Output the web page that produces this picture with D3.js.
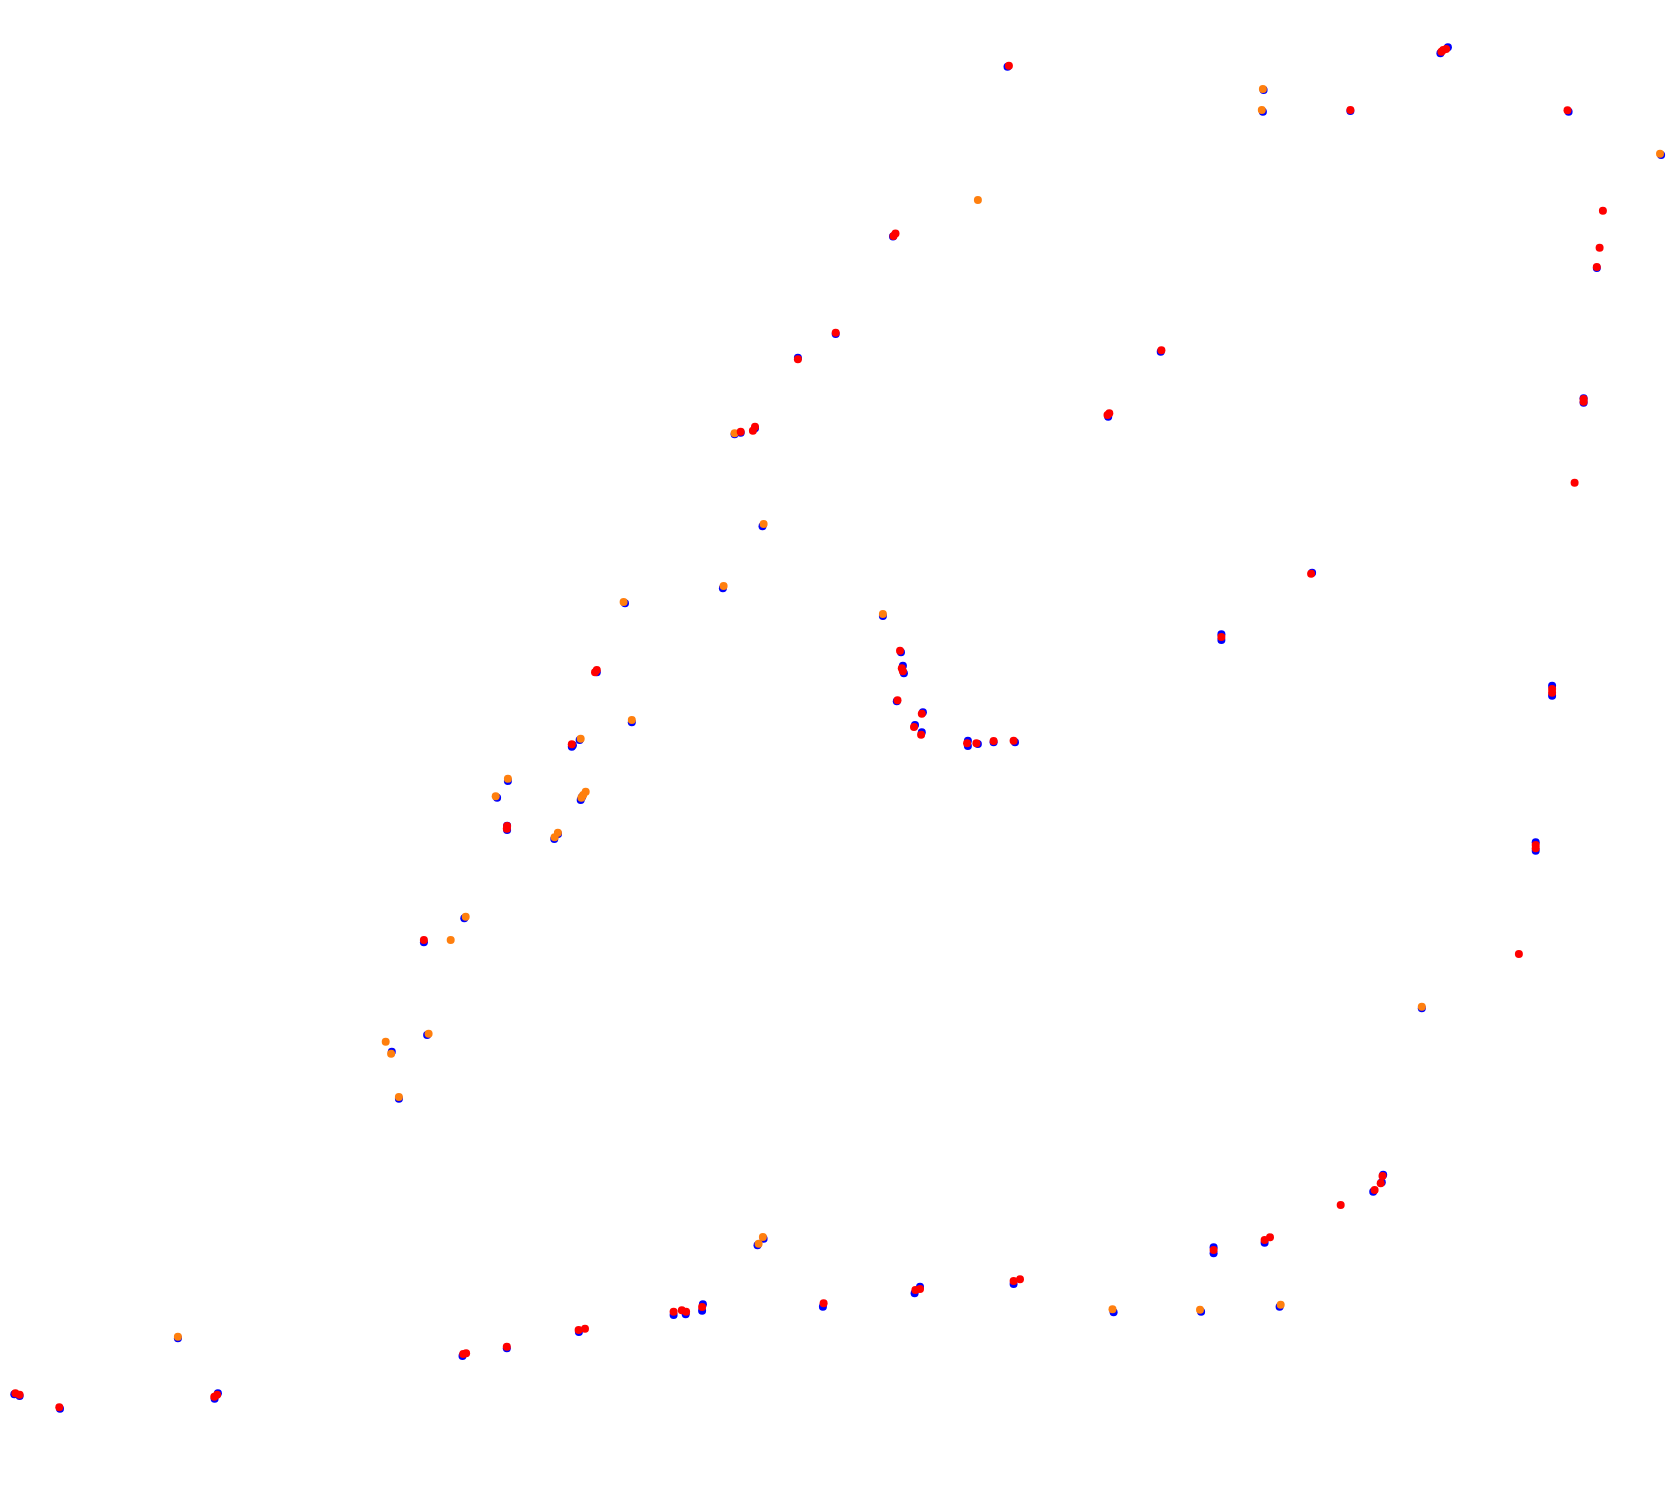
<!DOCTYPE html>
<html>
<head>
<meta charset="utf-8">
<script src="https://cdn.jsdelivr.net/npm/d3@7"></script>
<style>
  html, body { margin: 0; padding: 0; background: #ffffff; }
  svg { display: block; }
</style>
</head>
<body>
<div id="chart"></div>
<script>
// Track-position data (x, y in track units; y grows downward)
const seriesNames = ["blue", "orange", "red"];

const blueSeries = [
  [1007.5,66.7],[893,236.5],[835.7,334],[797.9,357.7],[734.6,434.3],[740.7,432.7],[755,428.3],[1108.2,416.7],
  [1440.4,53.3],[1447.9,47.3],[1263.6,90],[1262.9,111.7],[1350.4,111],[1568.6,111.7],[1661.1,155],[1596.8,268],
  [1160.7,351.7],[1583.6,398.3],[1583.6,402.7],
  [507.9,781],[497.1,797.7],[507.1,825.7],[507.1,830],[554.3,839],[558,834],[580.7,800],[582,797],[464.3,918.3],[423.9,942.3],
  [762.5,526.3],[722.9,588.3],[625,603.3],[882.9,616],[901,652.3],[902.9,665.7],[903.9,673.3],[896.8,701.3],
  [922.9,712.3],[915,725],[921.8,732.3],[967.9,740.7],[967.9,746],[977.9,744],[993.6,742.3],[1015,742.3],
  [596.8,672.3],[631.8,722.3],[579.6,740],[572.9,745.3],[571.8,746.7],
  [1312.1,572.7],[1221.4,634.3],[1221.4,640],[1552.1,685.7],[1552.1,695.7],[1535.7,842.3],[1535.7,850.7],
  [391.8,1051.7],[427.1,1035],[398.9,1098.7],[177.9,1338.3],[14.3,1394.3],[19.6,1396],[60,1408.7],
  [214.6,1398.7],[217.9,1393.3],[462.5,1356],[506.8,1348.3],
  [757.5,1245.3],[763.6,1238.7],[578.9,1332],[673.6,1315],[685.7,1314.3],[702.9,1304.3],[702.1,1310.7],
  [822.9,1306.7],[914.6,1293.3],[920,1286.7],[1013.6,1284],[1113.6,1312.3],
  [1421.8,1008.3],[1383.2,1174.7],[1381.8,1182.3],[1373.2,1191.7],[1264.6,1242.7],[1213.6,1247.3],[1213.6,1253.3],
  [1201.1,1311.7],[1279.6,1306.7]
];

const orangeSeries = [
  [977.9,200],[734.6,433.3],[1262.9,89],[1261.8,110],[1660,153.7],[507.9,778.7],[495.7,796.3],
  [557.9,832.7],[554.6,837.3],[585.7,791.7],[583.2,795],[581.4,797.7],[465.7,916.7],[450.7,940],
  [763.6,524],[723.6,586],[623.6,602],[882.9,614],[631.8,720],[580.7,738.7],
  [385.7,1041.7],[391.1,1053.7],[428.6,1033.7],[398.9,1097],[177.9,1336.7],[762.9,1237],[758.6,1243.7],
  [1112.5,1309.3],[1421.8,1006.7],[1200,1309.7],[1280.7,1304.7]
];

const redSeries = [
  [1008.9,65.7],[893.5,236],[895.5,233.5],[835.7,332.7],[797.9,359.3],[740.7,431.7],[752.9,430.7],[755,426.7],
  [1107.5,415],[1109.3,413.3],
  [1441.4,51.7],[1443.2,50],[1446.1,49],[1350.4,110],[1567.5,110.3],[1602.9,210.7],[1599.6,247.7],[1596.8,267],
  [1161.4,350.3],[1583.6,399],[1583.6,401.7],[1574.6,482.7],
  [507.1,826],[506.8,828.7],[423.9,940],
  [900,650.7],[901.8,668.3],[902.9,671.3],[897.5,700.3],[921.8,713.7],[914,727],[921.1,734.7],[967.1,743.3],
  [976.4,743.3],[993.6,741],[1013.6,740.7],[595,672.3],[596.8,670],[571.8,744.3],
  [1311.1,573.7],[1221.4,637],[1552.1,689],[1552.1,692.7],[1535.7,845],[1535.7,848.3],[1518.9,954],
  [15.4,1393.3],[19.6,1394.7],[59.3,1407.3],[214.3,1396.7],[217.1,1394.7],[463.2,1354],[466.1,1353.3],[506.8,1346.7],
  [578.6,1330],[585,1328.7],[673.6,1311.7],[681.8,1310.3],[686.1,1311.7],[702.1,1307],[823.6,1303.3],
  [915.4,1290],[920,1289],[1013.6,1281],[1020,1279.3],
  [1382.5,1176],[1380.7,1183.3],[1374.6,1190],[1340.7,1205],[1264.6,1240],[1270,1237.3],[1213.6,1250]
];

const xDomain = [0, 1680];
const yDomain = [0, 1490];

// ---- drawing ----
const W = 1680, H = 1490;
const colors = { blue: "#0000ff", orange: "#ff7f0e", red: "#ff0000" };
const R = 4;

const svg = d3.select("#chart").append("svg")
  .attr("width", W).attr("height", H)
  .style("background", "#ffffff");

const x = d3.scaleLinear().domain(xDomain).range([0, W]);
const y = d3.scaleLinear().domain(yDomain).range([0, H]);

const dataBySeries = { blue: blueSeries, orange: orangeSeries, red: redSeries };

seriesNames.forEach(name => {
  svg.append("g").attr("class", "series-" + name)
    .selectAll("circle")
    .data(dataBySeries[name])
    .join("circle")
    .attr("cx", d => x(d[0]))
    .attr("cy", d => y(d[1]))
    .attr("r", R)
    .attr("fill", colors[name]);
});
</script>
</body>
</html>
